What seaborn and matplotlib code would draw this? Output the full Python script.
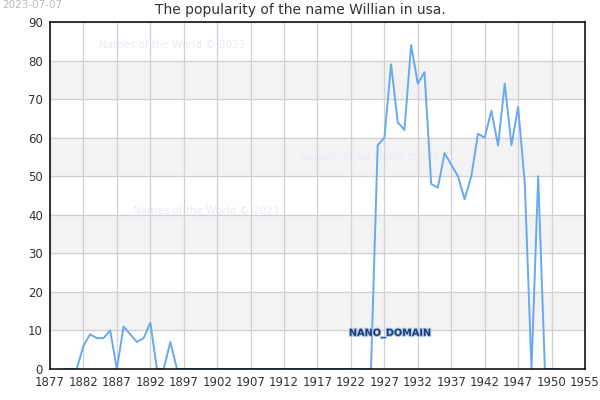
import matplotlib
matplotlib.use('Agg')
import matplotlib.pyplot as plt
import matplotlib.patheffects as pe
import seaborn as sns
import pandas as pd

years = list(range(1879, 1954))
early = [0, 0, 0, 6, 9, 8, 8, 10, 0, 11, 9, 7, 8, 12, 0, 0, 7]   # 1879-1895
quiet = [0] * 30                                                   # 1896-1925
late = [58, 60, 79, 64, 62, 84, 74, 77, 48, 47, 56, 53, 50, 44, 50,
        61, 60, 67, 58, 74, 58, 68, 48, 0, 50, 0, 0, 0]           # 1926-1953
counts = early + quiet + late

tick_pos = list(range(1877, 1958, 5))
tick_labels = [str(y) for y in range(1877, 1948, 5)] + ['1950', '1955']

df = pd.DataFrame({'year': years, 'count': counts})

sns.set_style('white')
fig = plt.figure(figsize=(6, 4), dpi=100)
ax = fig.add_axes([0.0833, 0.0775, 0.8917, 0.8675])

for lo in range(10, 90, 20):
    ax.axhspan(lo, lo + 10, color='#f3f3f3', zorder=0)

for (x, y) in [(0.092, 0.925), (0.468, 0.6), (0.155, 0.447)]:
    ax.text(x, y, 'Names of the World © 2023', transform=ax.transAxes,
            fontsize=7.5, color='#ebebfa', zorder=1)

sns.lineplot(data=df, x='year', y='count', color='#66aaf0', linewidth=1.4, ax=ax, zorder=3)

ax.set_xlim(1877, 1957)
ax.set_ylim(0, 90)
ax.set_xticks(tick_pos)
ax.set_xticklabels(tick_labels)
ax.set_yticks(range(0, 91, 10))
ax.tick_params(length=0, labelsize=8.5, colors='#333333', pad=5)
ax.grid(True, color='#d0d0d0', linewidth=0.9, zorder=2)
ax.set_axisbelow(False)
for s in ax.spines.values():
    s.set_color('black')
    s.set_linewidth(1.1)
    s.set_zorder(4)
ax.set_xlabel('')
ax.set_ylabel('')

ax.text(1921.7, 8.6, 'NANO_DOMAIN', fontsize=7, color='#1e3c6e', weight='bold', zorder=5,
        path_effects=[pe.withStroke(linewidth=1.5, foreground='#a8c4e8')])

fig.text(0.5, 0.975, 'The popularity of the name Willian in usa.', ha='center', va='center',
         fontsize=10, color='#333333')
fig.text(0.003, 0.988, '2023-07-07', ha='left', va='center', fontsize=7.5, color='#bbbbbb')

fig.savefig('out.png', dpi=100)
